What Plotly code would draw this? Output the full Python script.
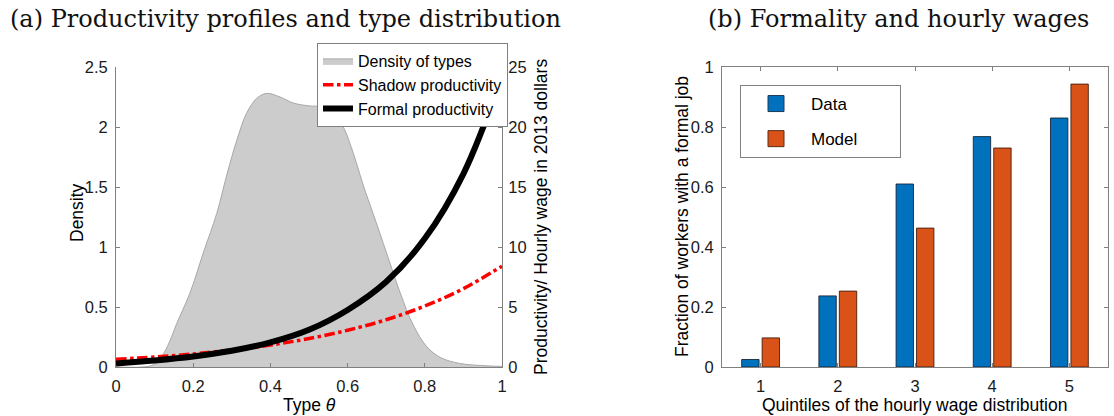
import plotly.graph_objects as go

# ---------------- data: panel (a) ----------------
theta_grid = [0.0, 0.1, 0.2, 0.3, 0.4, 0.5, 0.6, 0.7, 0.8, 0.9, 1.0]
formal_prod = [0.3, 0.55, 0.88, 1.35, 2.05, 3.1, 4.75, 7.1, 10.7, 16.1, 24.2]
shadow_prod = [0.64, 0.84, 1.09, 1.42, 1.83, 2.37, 3.06, 3.94, 5.08, 6.53, 8.4]

dens_theta = [0.0, 0.09, 0.11, 0.125, 0.14, 0.157, 0.192, 0.226, 0.261, 0.287, 0.313,
              0.339, 0.365, 0.39, 0.425, 0.459, 0.503, 0.528, 0.563, 0.589,
              0.615, 0.64, 0.667, 0.701, 0.736, 0.77, 0.805, 0.84, 0.89, 0.96, 1.0]
dens_vals = [0.0, 0.01, 0.05, 0.12, 0.22, 0.36, 0.62, 0.95, 1.28, 1.6, 1.89,
             2.12, 2.24, 2.28, 2.25, 2.20, 2.175, 2.17, 2.12, 2.0,
             1.78, 1.52, 1.27, 0.95, 0.62, 0.35, 0.17, 0.08, 0.03, 0.01, 0.005]

# ---------------- data: panel (b) ----------------
quintiles = [1, 2, 3, 4, 5]
data_share = [0.025, 0.237, 0.61, 0.768, 0.83]
model_share = [0.097, 0.253, 0.463, 0.73, 0.943]

W, H = 1114, 416
SANS = "Liberation Sans, Arial, Helvetica, sans-serif"
SERIF = "DejaVu Serif, Liberation Serif, serif"
AXC = "#808080"
NB = "\u00a0"

def px(x):
    return x / W

def py(y):
    return (H - y) / H

fig = go.Figure()

fig.add_trace(go.Scatter(
    x=dens_theta, y=dens_vals, mode="lines", fill="tozeroy", line_shape="spline",
    fillcolor="#cccccc", line=dict(color="#a8a8a8", width=1),
    name="Density of types", xaxis="x", yaxis="y", legend="legend"))
fig.add_trace(go.Scatter(
    x=theta_grid, y=shadow_prod, mode="lines", line_shape="spline",
    line=dict(color="#ff0000", width=3.5, dash="dashdot"),
    name="Shadow productivity", xaxis="x", yaxis="y2", legend="legend"))
fig.add_trace(go.Scatter(
    x=theta_grid, y=formal_prod, mode="lines", line_shape="spline",
    line=dict(color="#000000", width=6),
    name="Formal productivity", xaxis="x", yaxis="y2", legend="legend"))

BLUE = "#0072BD"
ORANGE = "#D95319"
fig.add_trace(go.Bar(x=quintiles, y=data_share,
                     marker=dict(color=BLUE, line=dict(color="rgba(20,30,50,0.85)", width=1)),
                     name="Data", xaxis="x3", yaxis="y3", showlegend=False))
fig.add_trace(go.Bar(x=quintiles, y=model_share,
                     marker=dict(color=ORANGE, line=dict(color="rgba(60,25,10,0.85)", width=1)),
                     name="Model", xaxis="x3", yaxis="y3", showlegend=False))
# legend entries for panel (b)
fig.add_trace(go.Scatter(x=[None], y=[None], mode="markers", name="Data" + NB * 10,
                         marker=dict(symbol="square", size=16, color=BLUE, line=dict(color="#1a3a5a", width=1)),
                         xaxis="x3", yaxis="y3", legend="legend2", legendgroup="d"))
fig.add_trace(go.Scatter(x=[None], y=[None], mode="markers", name="Model" + NB * 7,
                         marker=dict(symbol="square", size=16, color=ORANGE, line=dict(color="#5a2a10", width=1)),
                         xaxis="x3", yaxis="y3", legend="legend2", legendgroup="m"))

tickfont = dict(family=SANS, size=16.5, color="#1a1a1a")
ydom = [py(367), py(67)]
common = dict(ticks="inside", ticklen=4, tickcolor=AXC, showline=True, linecolor=AXC, linewidth=1,
              showgrid=False, zeroline=False, tickfont=tickfont, automargin=False)

fig.update_layout(
    width=W, height=H,
    margin=dict(l=0, r=0, t=0, b=0),
    paper_bgcolor="white", plot_bgcolor="white",
    showlegend=True,
    barmode="group", bargap=0.47, bargroupgap=0.15,
    xaxis=dict(domain=[px(116), px(502)], range=[0, 1], anchor="y",
               tickvals=[0, 0.2, 0.4, 0.6, 0.8, 1], ticktext=["0", "0.2", "0.4", "0.6", "0.8", "1"],
               ticklabelstandoff=4, **common),
    yaxis=dict(domain=ydom, range=[0, 2.5], anchor="x",
               tickvals=[0, 0.5, 1, 1.5, 2, 2.5], ticktext=["0", "0.5", "1", "1.5", "2", "2.5"],
               ticklabelstandoff=4, **common),
    yaxis2=dict(range=[0, 25], overlaying="y", side="right", anchor="x",
                tickvals=[0, 5, 10, 15, 20, 25], ticklabelstandoff=2, **common),
    xaxis3=dict(domain=[px(722), px(1108)], range=[0.5, 5.5], anchor="y3",
                tickvals=quintiles, ticktext=[str(q) for q in quintiles],
                mirror="ticks", ticklabelstandoff=4, **common),
    yaxis3=dict(domain=ydom, range=[0, 1], anchor="x3",
                tickvals=[0, 0.2, 0.4, 0.6, 0.8, 1], ticktext=["0", "0.2", "0.4", "0.6", "0.8", "1"],
                mirror="ticks", ticklabelstandoff=4, **common),
    legend=dict(x=px(317), y=py(43), xanchor="left", yanchor="top",
                bgcolor="white", bordercolor=AXC, borderwidth=1,
                font=dict(family=SANS, size=16, color="#000"), itemwidth=30,
                tracegroupgap=0),
    legend2=dict(x=px(740), y=py(85), xanchor="left", yanchor="top",
                 bgcolor="white", bordercolor=AXC, borderwidth=1,
                 font=dict(family=SANS, size=17, color="#000"), itemwidth=60,
                 tracegroupgap=10),
)

TF = dict(family=SANS, size=17.5, color="#000")
annos = [
    dict(text="(a) Productivity profiles and type distribution", x=px(8), y=py(19),
         xanchor="left", yanchor="middle", font=dict(family=SERIF, size=24, color="#111")),
    dict(text="(b) Formality and hourly wages", x=px(898), y=py(19),
         xanchor="center", yanchor="middle", font=dict(family=SERIF, size=24, color="#111")),
    dict(text="Density", x=px(77), y=py(213), textangle=-90,
         xanchor="center", yanchor="middle", font=TF),
    dict(text="Productivity/ Hourly wage in 2013 dollars", x=px(541), y=py(217), textangle=-90,
         xanchor="center", yanchor="middle", font=TF),
    dict(text="Type <i>θ</i>", x=px(309), y=py(405),
         xanchor="center", yanchor="middle", font=TF),
    dict(text="Fraction of workers with a formal job", x=px(682), y=py(217), textangle=-90,
         xanchor="center", yanchor="middle", font=TF),
    dict(text="Quintiles of the hourly wage distribution", x=px(914), y=py(405),
         xanchor="center", yanchor="middle", font=TF),
]
for a in annos:
    a.update(xref="paper", yref="paper", showarrow=False)
fig.update_layout(annotations=annos)

fig.write_html("out.html", config={"displayModeBar": False},
               post_script="document.body.style.margin='0';document.body.style.overflow='hidden';")
